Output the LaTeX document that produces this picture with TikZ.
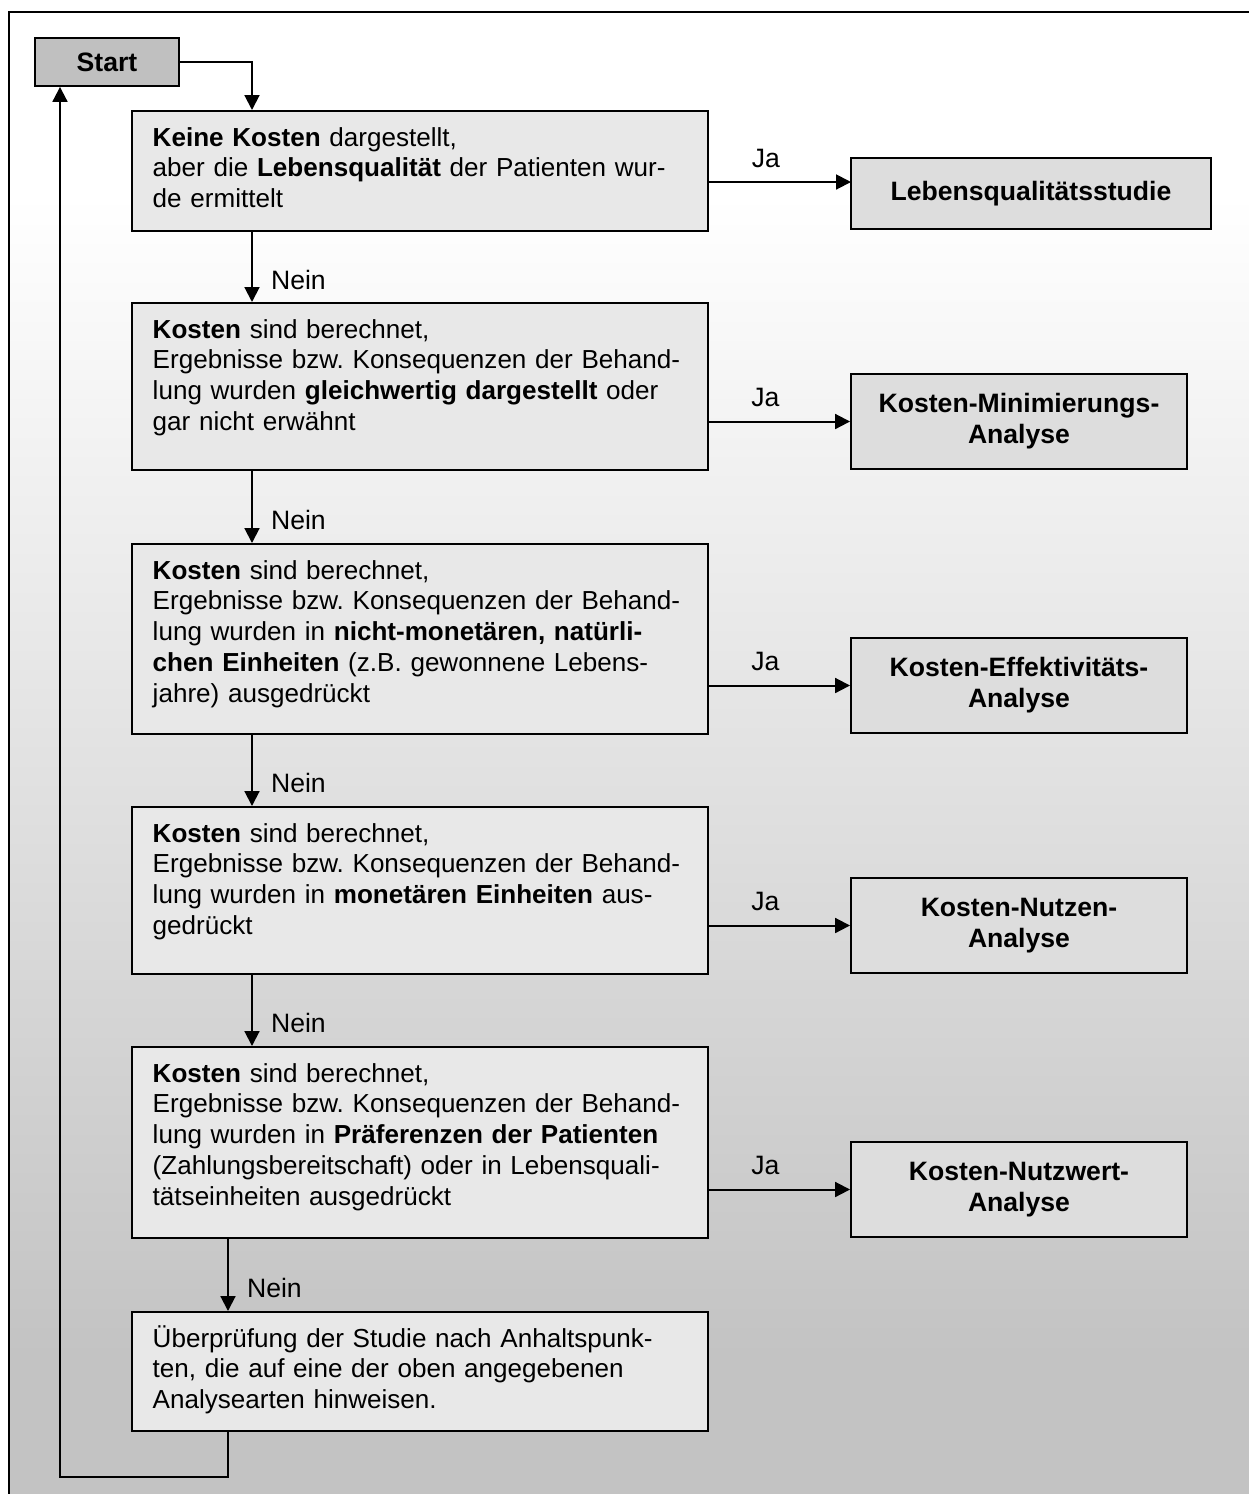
\documentclass[tikz,border=0pt]{standalone}
\usepackage{fontspec}
\setmainfont{Liberation Sans}
\usepackage{tikz}
\usetikzlibrary{arrows.meta}
\definecolor{startgrau}{HTML}{C0C0C0}
\definecolor{zielgrau}{HTML}{DDDDDD}
\definecolor{fragegrau}{HTML}{E8E8E8}
\definecolor{rahmengrau}{HTML}{C3C3C3}
\pgfdeclareverticalshading{rahmenverlauf}{100bp}{color(0bp)=(rahmengrau); color(31bp)=(rahmengrau); color(69bp)=(white); color(100bp)=(white)}

\begin{document}
\begin{tikzpicture}[x=0.376pt,y=-0.376pt,line width=0.75pt,>={Triangle[length=5.6pt,width=5.6pt]}]
						\tikzstyle{frage}=[draw,fill=fragegrau,anchor=north west,text width=201pt,inner xsep=7.8pt,inner ysep=5.7pt,align=left,text height=7.5pt,font=\fontsize{9.8}{11.6}\selectfont\frenchspacing]
						\tikzstyle{ziel}=[draw,fill=zielgrau,align=center,minimum height=35.7pt,font=\fontsize{10}{11.6}\selectfont\bfseries]
						\tikzstyle{janein}=[font=\fontsize{10}{11.6}\selectfont]
						\useasboundingbox (0,0) rectangle (1249,1494);
						\fill [white] (-10,-10) rectangle (1260,1505);
						\begin{scope}
							\clip (-10,-10) rectangle (1260,1505);
							\draw [black,line width=0.6pt,shade,shading=rahmenverlauf] (9,12) rectangle (1300,1540);
						\end{scope}
						\node [draw,fill=startgrau,minimum width=54.1pt,minimum height=18pt,font=\bfseries] (start) at (107,62) {Start};
						\node [frage,text depth=26.2pt] (keine) at (131,110) {\textbf{Keine Kosten} dargestellt,\\aber die \textbf{Lebensqualität} der Patienten wur-\\de ermittelt};
						\node [frage,text depth=43.9pt] (gleich) at (131,302) {\textbf{Kosten} sind berechnet,\\Ergebnisse bzw. Konsequenzen der Behand-\\lung wurden \textbf{gleichwertig dargestellt} oder\\gar nicht erwähnt};
						\node [frage,text depth=52.5pt] (natur) at (131,543) {\textbf{Kosten} sind berechnet,\\Ergebnisse bzw. Konsequenzen der Behand-\\lung wurden in \textbf{nicht-monetären, natürli-}\\\textbf{chen Einheiten} (z.B. gewonnene Lebens-\\jahre) ausgedrückt};
						\node [frage,text depth=43.9pt] (monetaer) at (131,806) {\textbf{Kosten} sind berechnet,\\Ergebnisse bzw. Konsequenzen der Behand-\\lung wurden in \textbf{monetären Einheiten} aus-\\gedrückt};
						\node [frage,text depth=52.9pt] (praef) at (131,1046) {\textbf{Kosten} sind berechnet,\\Ergebnisse bzw. Konsequenzen der Behand-\\lung wurden in \textbf{Präferenzen der Patienten}\\(Zahlungsbereitschaft) oder in Lebensquali-\\tätseinheiten ausgedrückt};
						\node [frage,text depth=25.8pt] (pruef) at (131,1311) {Überprüfung der Studie nach Anhaltspunk-\\ten, die auf eine der oben angegebenen\\Analysearten hinweisen.};
						\node [ziel,minimum width=135.4pt,minimum height=26.7pt] (lq) at (1031,193.5) {Lebensqualitätsstudie};
						\node [ziel,minimum width=126.3pt] (kma) at (1019,421.5) {Kosten-Minimierungs-\\Analyse};
						\node [ziel,minimum width=126.3pt] (kea) at (1019,685.5) {Kosten-Effektivitäts-\\Analyse};
						\node [ziel,minimum width=126.3pt] (kna) at (1019,925.5) {Kosten-Nutzen-\\Analyse};
						\node [ziel,minimum width=126.3pt] (knw) at (1019,1189.5) {Kosten-Nutzwert-\\Analyse};
						\coordinate (achse) at (252,0);
						\coordinate (achseb) at (228,0);
						\coordinate (ruecklauf) at (60,1477);
						\coordinate (lqpfeil) at (851,182);
						\draw [->] (start.east) -| (achse |- keine.north);
						\draw [->] (keine.east |- lqpfeil) -- (lqpfeil) node [janein,pos=0.4,above,inner sep=5pt] {Ja};
						\draw [->] (gleich.east |- kma) -- (kma.west) node [janein,pos=0.4,above,inner sep=5pt] {Ja};
						\draw [->] (natur.east |- kea) -- (kea.west) node [janein,pos=0.4,above,inner sep=5pt] {Ja};
						\draw [->] (monetaer.east |- kna) -- (kna.west) node [janein,pos=0.4,above,inner sep=5pt] {Ja};
						\draw [->] (praef.east |- knw) -- (knw.west) node [janein,pos=0.4,above,inner sep=5pt] {Ja};
						\draw [->] (achse |- keine.south) -- (achse |- gleich.north) node [janein,pos=0.68,right,inner sep=6.8pt] {Nein};
						\draw [->] (achse |- gleich.south) -- (achse |- natur.north) node [janein,pos=0.68,right,inner sep=6.8pt] {Nein};
						\draw [->] (achse |- natur.south) -- (achse |- monetaer.north) node [janein,pos=0.68,right,inner sep=6.8pt] {Nein};
						\draw [->] (achse |- monetaer.south) -- (achse |- praef.north) node [janein,pos=0.68,right,inner sep=6.8pt] {Nein};
						\draw [->] (achseb |- praef.south) -- (achseb |- pruef.north) node [janein,pos=0.68,right,inner sep=6.8pt] {Nein};
						\draw [->] (achseb |- pruef.south) |- (ruecklauf) -- (ruecklauf |- start.south);
					\end{tikzpicture}
\end{document}
